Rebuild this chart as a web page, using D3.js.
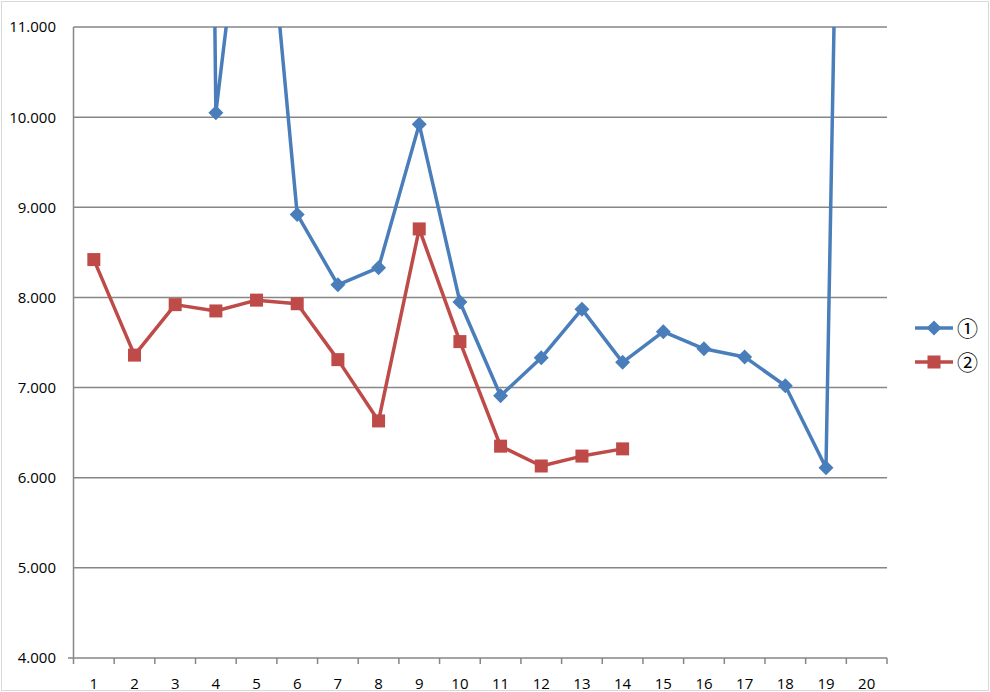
<!DOCTYPE html>
<html><head><meta charset="utf-8">
<script src="https://cdn.jsdelivr.net/npm/d3@7"></script>
<style>body{margin:0;background:#fff}svg{display:block}</style>
</head><body>
<script>
const categories = ["1","2","3","4","5","6","7","8","9","10","11","12","13","14","15","16","17","18","19","20"];
const series1 = [null, null, 50, 10.05, 13.8, 8.92, 8.14, 8.33, 9.92, 7.95, 6.91, 7.33, 7.87, 7.28, 7.62, 7.43, 7.34, 7.02, 6.11, 31];
const series2 = [8.42, 7.36, 7.92, 7.85, 7.97, 7.93, 7.31, 6.63, 8.76, 7.51, 6.35, 6.13, 6.24, 6.32, null, null, null, null, null, null];
const seriesNames = ["①", "②"];
const yTicks = [4, 5, 6, 7, 8, 9, 10, 11];

const W = 990, H = 692;
const m = {left: 73.5, right: 887, top: 27, bottom: 658};
const svg = d3.select("body").append("svg").attr("width", W).attr("height", H);
svg.append("rect").attr("x",1.5).attr("y",1.5).attr("width",W-3).attr("height",H-3)
  .attr("fill","#fff").attr("stroke","#d9d9d9").attr("stroke-width",1);

const x = d3.scaleBand().domain(categories).range([m.left, m.right]);
const y = d3.scaleLinear().domain([4, 11]).range([m.bottom, m.top]);

svg.append("g").selectAll("line").data(yTicks.slice(1)).join("line")
  .attr("x1", m.left).attr("x2", m.right)
  .attr("y1", d => y(d)).attr("y2", d => y(d))
  .attr("stroke", "#868686").attr("stroke-width", 1.5);

svg.append("g").selectAll("text").data(yTicks).join("text")
  .attr("x", 56).attr("y", d => y(d)).attr("dy", "0.36em")
  .attr("text-anchor", "end")
  .attr("font-family", "Open Sans").attr("font-size", 15).attr("fill", "#000")
  .text(d => d3.format(",.3f")(d));

svg.append("line").attr("x1", m.left).attr("x2", m.left).attr("y1", m.top).attr("y2", m.bottom)
  .attr("stroke", "#868686").attr("stroke-width", 1.5);

const xa = svg.append("g").attr("transform", `translate(0,${m.bottom})`)
  .call(d3.axisBottom(x).tickSize(0).tickPadding(20));
xa.select(".domain").remove();
xa.selectAll("text").attr("font-family", "Open Sans").attr("font-size", 15).attr("fill", "#000");
svg.append("line").attr("x1", 68).attr("x2", m.right).attr("y1", m.bottom).attr("y2", m.bottom)
  .attr("stroke", "#868686").attr("stroke-width", 1.5);
const bounds = categories.map(c => x(c)).concat([m.right]);
svg.append("g").selectAll("line").data(bounds).join("line")
  .attr("x1", d => d).attr("x2", d => d).attr("y1", m.bottom).attr("y2", m.bottom + 6)
  .attr("stroke", "#868686").attr("stroke-width", 1.5);

svg.append("clipPath").attr("id", "clip").append("rect")
  .attr("x", m.left).attr("y", m.top).attr("width", m.right - m.left).attr("height", m.bottom - m.top);

const cx = c => x(c) + x.bandwidth() / 2;
const line = d3.line().defined(d => d.v != null).x(d => cx(d.c)).y(d => y(d.v));
const colors = ["#4A7EBB", "#BE4B48"];
const data = [series1, series2].map(s => s.map((v, i) => ({c: categories[i], v})));

const plot = svg.append("g").attr("clip-path", "url(#clip)");
data.forEach((d, i) => {
  plot.append("path").datum(d).attr("d", line).attr("fill", "none")
    .attr("stroke", colors[i]).attr("stroke-width", 3.5).attr("stroke-linejoin", "round");
});
const dia = "M0,-7.5L7.5,0L0,7.5L-7.5,0Z";
plot.append("g").selectAll("path").data(data[0].filter(d => d.v != null && d.v <= 11)).join("path")
  .attr("transform", d => `translate(${cx(d.c)},${y(d.v)})`).attr("d", dia).attr("fill", colors[0]);
plot.append("g").selectAll("rect").data(data[1].filter(d => d.v != null)).join("rect")
  .attr("x", d => cx(d.c) - 6.5).attr("y", d => y(d.v) - 6.5).attr("width", 13).attr("height", 13)
  .attr("fill", colors[1]);

const lg = svg.append("g");
seriesNames.forEach((n, i) => {
  const ly = 328 + i * 34;
  lg.append("line").attr("x1", 915).attr("x2", 953).attr("y1", ly).attr("y2", ly)
    .attr("stroke", colors[i]).attr("stroke-width", 3.5);
  if (i === 0) lg.append("path").attr("transform", `translate(934,${ly})`).attr("d", dia).attr("fill", colors[0]);
  else lg.append("rect").attr("x", 927.5).attr("y", ly - 6.5).attr("width", 13).attr("height", 13).attr("fill", colors[1]);
  lg.append("text").attr("x", 957).attr("y", ly).attr("dy", "0.36em")
    .attr("font-family", "Noto Sans CJK JP").attr("font-size", 21).attr("fill", "#000").text(n);
});
</script>
</body></html>
